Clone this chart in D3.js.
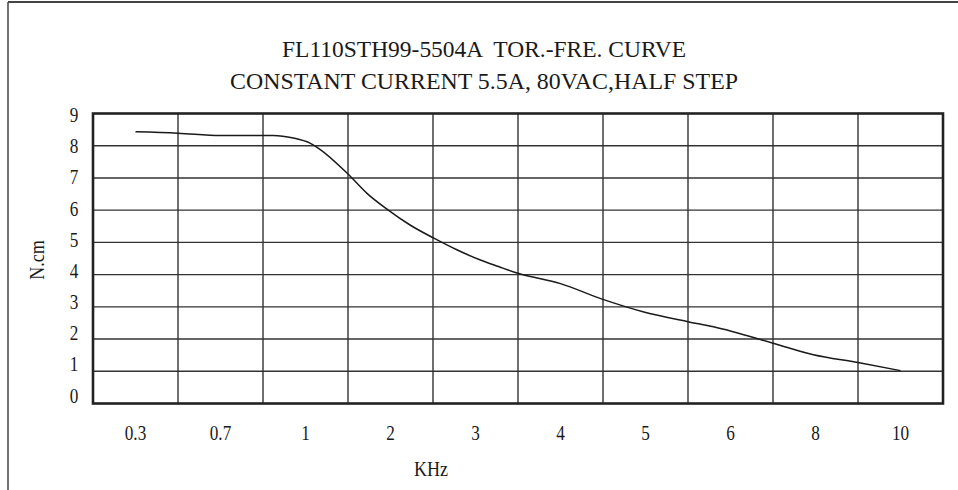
<!DOCTYPE html>
<html>
<head>
<meta charset="utf-8">
<script src="https://cdn.jsdelivr.net/npm/d3@7/dist/d3.min.js"></script>
<style>
  html, body { margin: 0; padding: 0; background: #fff; }
  svg { display: block; }
  text { font-family: "Liberation Serif", "Times New Roman", serif; fill: #1a1a1a; white-space: pre; }
</style>
</head>
<body>
<svg id="chart" width="958" height="490"></svg>
<script>
// ---- data ----
const titleLines = ["FL110STH99-5504A  TOR.-FRE. CURVE", "CONSTANT CURRENT 5.5A, 80VAC,HALF STEP"];
const xCategories = [0.3, 0.7, 1, 2, 3, 4, 5, 6, 8, 10];   // KHz tick labels
const yTicks = [0, 1, 2, 3, 4, 5, 6, 7, 8, 9];
const freqKHz = [0.3, 0.5, 0.7, 0.886, 0.957, 1.053, 1.17, 1.5, 1.72, 1.97, 2.23, 2.51, 2.78, 3.05, 3.27, 3.5, 4.0, 4.49, 4.97, 5.5, 5.8, 7.0, 7.95, 9.0, 10];
const torque  = [8.43, 8.39, 8.32, 8.32, 8.24, 8.08, 7.89, 7.12, 6.53, 6.01, 5.54, 5.13, 4.77, 4.46, 4.25, 4.04, 3.72, 3.24, 2.85, 2.54, 2.38, 1.87, 1.51, 1.27, 1.02];
const xLabel = "KHz";
const yLabel = "N.cm";

// ---- layout ----
const svg = d3.select("#chart");
const plot = { left: 93, right: 943, top: 113.5, bottom: 403.5 };
const squeeze = 0.86; // condensed look of the original serif type

// band scale for the categorical frequency axis
const band = d3.scaleBand().domain(xCategories).range([plot.left, plot.right]).padding(0);
// piece-wise linear scale mapping a frequency to its place on the categorical axis
const x = d3.scaleLinear()
  .domain(xCategories)
  .range(xCategories.map(c => band(c) + band.bandwidth() / 2));
const y = d3.scaleLinear().domain([0, 9]).range([plot.bottom, plot.top]);
// tick-label placement scale (labels in the original are slightly compressed)
const yLab = d3.scaleLinear().domain([0, 9]).range([395.5, 115]);

// outer frame (top and left edges only)
svg.append("line").attr("x1", 8).attr("x2", 958).attr("y1", 2).attr("y2", 2)
  .attr("stroke", "#444").attr("stroke-width", 2);
svg.append("line").attr("x1", 8).attr("x2", 8).attr("y1", 2).attr("y2", 490)
  .attr("stroke", "#444").attr("stroke-width", 1.5);

// title
svg.selectAll("text.title").data(titleLines).enter().append("text")
  .attr("class", "title")
  .attr("x", 484).attr("y", (d, i) => 56.5 + i * 32)
  .attr("text-anchor", "middle")
  .attr("font-size", 24)
  .attr("textLength", (d, i) => i === 0 ? 404 : 508)
  .attr("lengthAdjust", "spacingAndGlyphs")
  .text(d => d);

// horizontal grid lines
const g = svg.append("g");
g.selectAll("line.h").data(yTicks.slice(1, -1)).enter().append("line")
  .attr("x1", plot.left).attr("x2", plot.right)
  .attr("y1", d => y(d)).attr("y2", d => y(d))
  .attr("stroke", "#333").attr("stroke-width", 1.4);

// vertical grid lines (band boundaries)
g.selectAll("line.v").data(xCategories.slice(1)).enter().append("line")
  .attr("x1", d => band(d)).attr("x2", d => band(d))
  .attr("y1", plot.top).attr("y2", plot.bottom)
  .attr("stroke", "#333").attr("stroke-width", 1.4);

// plot border
svg.append("rect")
  .attr("x", plot.left).attr("y", plot.top)
  .attr("width", plot.right - plot.left).attr("height", plot.bottom - plot.top)
  .attr("fill", "none").attr("stroke", "#222").attr("stroke-width", 2.6);

// y tick labels
svg.selectAll("text.ytick").data(yTicks).enter().append("text")
  .attr("transform", d => `translate(74,${yLab(d)}) scale(${squeeze},1)`)
  .attr("dy", "0.35em")
  .attr("text-anchor", "middle")
  .attr("font-size", 20)
  .text(d => d);

// x tick labels
svg.selectAll("text.xtick").data(xCategories).enter().append("text")
  .attr("transform", d => `translate(${band(d) + band.bandwidth() / 2},440) scale(${squeeze},1)`)
  .attr("text-anchor", "middle")
  .attr("font-size", 20)
  .text(d => d);

// axis titles
svg.append("text").attr("transform", `translate(431,476) scale(${squeeze},1)`)
  .attr("text-anchor", "middle").attr("font-size", 21).text(xLabel);
svg.append("text")
  .attr("transform", `translate(44,260) rotate(-90) scale(${squeeze},1)`)
  .attr("text-anchor", "middle").attr("font-size", 21).text(yLabel);

// curve
const pts = freqKHz.map((f, i) => [f, torque[i]]);
const line = d3.line().x(d => x(d[0])).y(d => y(d[1])).curve(d3.curveMonotoneX);
svg.append("path").datum(pts)
  .attr("d", line)
  .attr("fill", "none").attr("stroke", "#1a1a1a").attr("stroke-width", 1.5);
</script>
</body>
</html>
